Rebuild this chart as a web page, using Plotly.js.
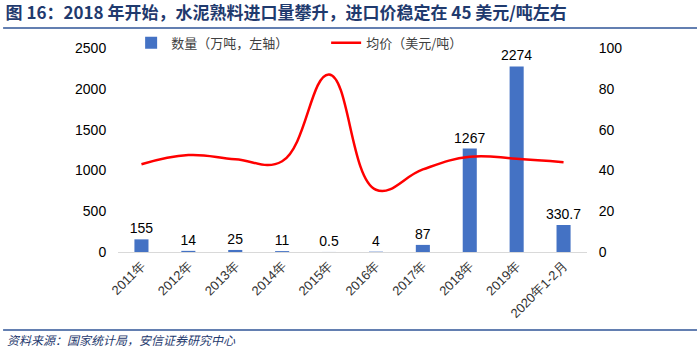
<!DOCTYPE html>
<html>
<head>
<meta charset="utf-8">
<script src="https://cdn.plot.ly/plotly-3.0.1.min.js"></script>
<style>html,body{margin:0;padding:0;background:#fff;}#chart{width:700px;height:351px;}</style>
</head>
<body>
<div id="chart"></div>
<script>
const categories = ["2011年","2012年","2013年","2014年","2015年","2016年","2017年","2018年","2019年","2020年1-2月"];
const volume = [155, 14, 25, 11, 0.5, 4, 87, 1267, 2274, 330.7];
const volumeLabels = ["155","14","25","11","0.5","4","87","1267","2274","330.7"];
const avgPrice = [43, 47.5, 45.5, 44.5, 87, 30.5, 40.5, 46.7, 45.7, 44];

const numFont = "Liberation Sans, Arial, sans-serif";
const cjkFont = "Noto Sans CJK SC, sans-serif";

const traces = [
  {
    type: "bar", name: "数量（万吨，左轴）", x: categories, y: volume,
    marker: {color: "#4472C4"},
    text: volumeLabels, textposition: "outside", cliponaxis: false, constraintext: "none",
    textfont: {family: numFont, size: 14, color: "#000"},
    hoverinfo: "x+y"
  },
  {
    type: "scatter", mode: "lines", name: "均价（美元/吨）", x: categories, y: avgPrice,
    yaxis: "y2", line: {color: "#FF0000", width: 2.5, shape: "spline", smoothing: 1.2}
  }
];

const layout = {
  width: 700, height: 351,
  margin: {l: 118, r: 113, t: 48, b: 99},
  paper_bgcolor: "#fff", plot_bgcolor: "#fff",
  showlegend: true,
  bargap: 0.7,
  title: {
    text: "<b>图 16：2018 年开始，水泥熟料进口量攀升，进口价稳定在 45 美元/吨左右</b>",
    x: 0.008, xanchor: "left", xref: "container",
    y: 0.963, yanchor: "middle", yref: "container",
    font: {family: cjkFont, size: 17, color: "#1F3A6E"}
  },
  legend: {
    orientation: "h", x: 0.028, xanchor: "left", y: 1.025, yanchor: "middle",
    font: {family: cjkFont, size: 13, color: "#404040"},
    bgcolor: "rgba(0,0,0,0)", entrywidth: 150, entrywidthmode: "pixels",
    itemwidth: 30
  },
  xaxis: {
    type: "category", tickangle: -45,
    tickfont: {family: numFont, size: 13, color: "#333"},
    showline: true, linecolor: "#D9D9D9", linewidth: 1,
    ticks: "", showgrid: false, zeroline: false
  },
  yaxis: {
    range: [0, 2500], dtick: 500, showgrid: false, zeroline: false,
    tickfont: {family: numFont, size: 14, color: "#000"},
    ticks: "outside", ticklen: 8, tickcolor: "rgba(0,0,0,0)", showline: false
  },
  yaxis2: {
    range: [0, 100], dtick: 20, overlaying: "y", side: "right",
    showgrid: false, zeroline: false,
    tickfont: {family: numFont, size: 14, color: "#000"},
    ticks: "outside", ticklen: 8, tickcolor: "rgba(0,0,0,0)", showline: false
  },
  shapes: [
    {type: "line", xref: "paper", yref: "paper", x0: -0.245, x1: 1.2345, y0: 1.098, y1: 1.098,
     line: {color: "#2F5597", width: 1.5}},
    {type: "line", xref: "paper", yref: "paper", x0: -0.245, x1: 1.2345, y0: -0.382, y1: -0.382,
     line: {color: "#2F5597", width: 1.5}}
  ],
  annotations: [
    {text: "<i>资料来源：国家统计局，安信证券研究中心</i>", xref: "paper", yref: "paper",
     x: -0.24, xanchor: "left", y: -0.431, yanchor: "middle", showarrow: false,
     font: {family: cjkFont, size: 12, color: "#1F3A6E"}}
  ]
};

Plotly.newPlot("chart", traces, layout, {displayModeBar: false, staticPlot: true});
</script>
</body>
</html>
